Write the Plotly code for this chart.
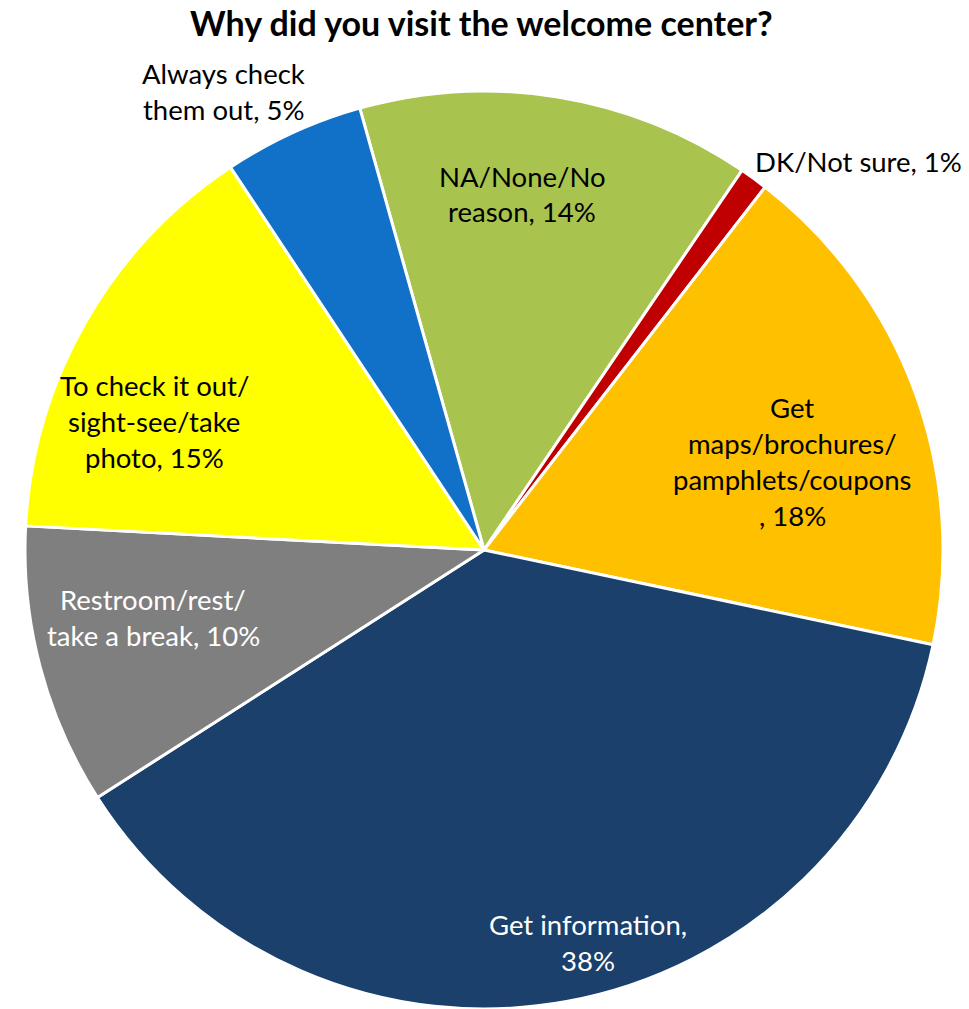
import plotly.graph_objects as go

# Survey responses, in clockwise order from the top of the pie
reasons = [
    "NA/None/No<br>reason",
    "DK/Not sure",
    "Get<br>maps/brochures/<br>pamphlets/coupons<br>",
    "Get information,<br>",
    "Restroom/rest/<br>take a break",
    "To check it out/<br>sight-see/take<br>photo",
    "Always check<br>them out",
]
shares = [14, 1, 18, 38, 10, 15, 5]
colors = ["#A8C34E", "#C00000", "#FFC000", "#1A406B", "#7F7F7F", "#FFFF00", "#1170C8"]
text_colors = ["black", "black", "black", "white", "white", "black", "black"]

# label anchor points in pixels (x, y of the block centre)
label_pos = [(522, 194), (858, 161), (792, 461), (588, 942), (153, 617), (154, 421), (223, 92)]

W, H = 969, 1009
FONT = "Lato"
SIZE = 27.5
LINE = 36

fig = go.Figure(
    go.Pie(
        labels=[r.replace("<br>", " ") for r in reasons],
        values=shares,
        sort=False,
        direction="clockwise",
        rotation=-15.7,
        marker=dict(colors=colors, line=dict(color="white", width=3)),
        textinfo="none",
        hoverinfo="label+percent",
        domain=dict(x=[22 / W, 946 / W], y=[0, 1 - 91 / H]),
        showlegend=False,
    )
)

annotations = []
for reason, share, tc, (px, py) in zip(reasons, shares, text_colors, label_pos):
    if reason.endswith("<br>"):
        full = reason + (", " if reason.startswith("Get<br>") else "") + f"{share}%"
    else:
        full = reason + f", {share}%"
    lines = full.split("<br>")
    n = len(lines)
    for i, line in enumerate(lines):
        y = py + (i - (n - 1) / 2) * LINE
        annotations.append(
            dict(
                x=px / W, y=1 - y / H, xref="paper", yref="paper",
                text=line, showarrow=False, xanchor="center", yanchor="middle",
                font=dict(family=FONT, size=SIZE, color=tc),
            )
        )

annotations.append(
    dict(
        x=481 / W, y=1 - 22 / H, xref="paper", yref="paper",
        text="<b>Why did you visit the welcome center?</b>", showarrow=False,
        xanchor="center", yanchor="middle",
        font=dict(family=FONT, size=34, color="black"),
    )
)

fig.update_layout(
    width=W, height=H,
    margin=dict(l=0, r=0, t=0, b=0),
    paper_bgcolor="white",
    plot_bgcolor="white",
    annotations=annotations,
)

fig.write_html("out.html")
